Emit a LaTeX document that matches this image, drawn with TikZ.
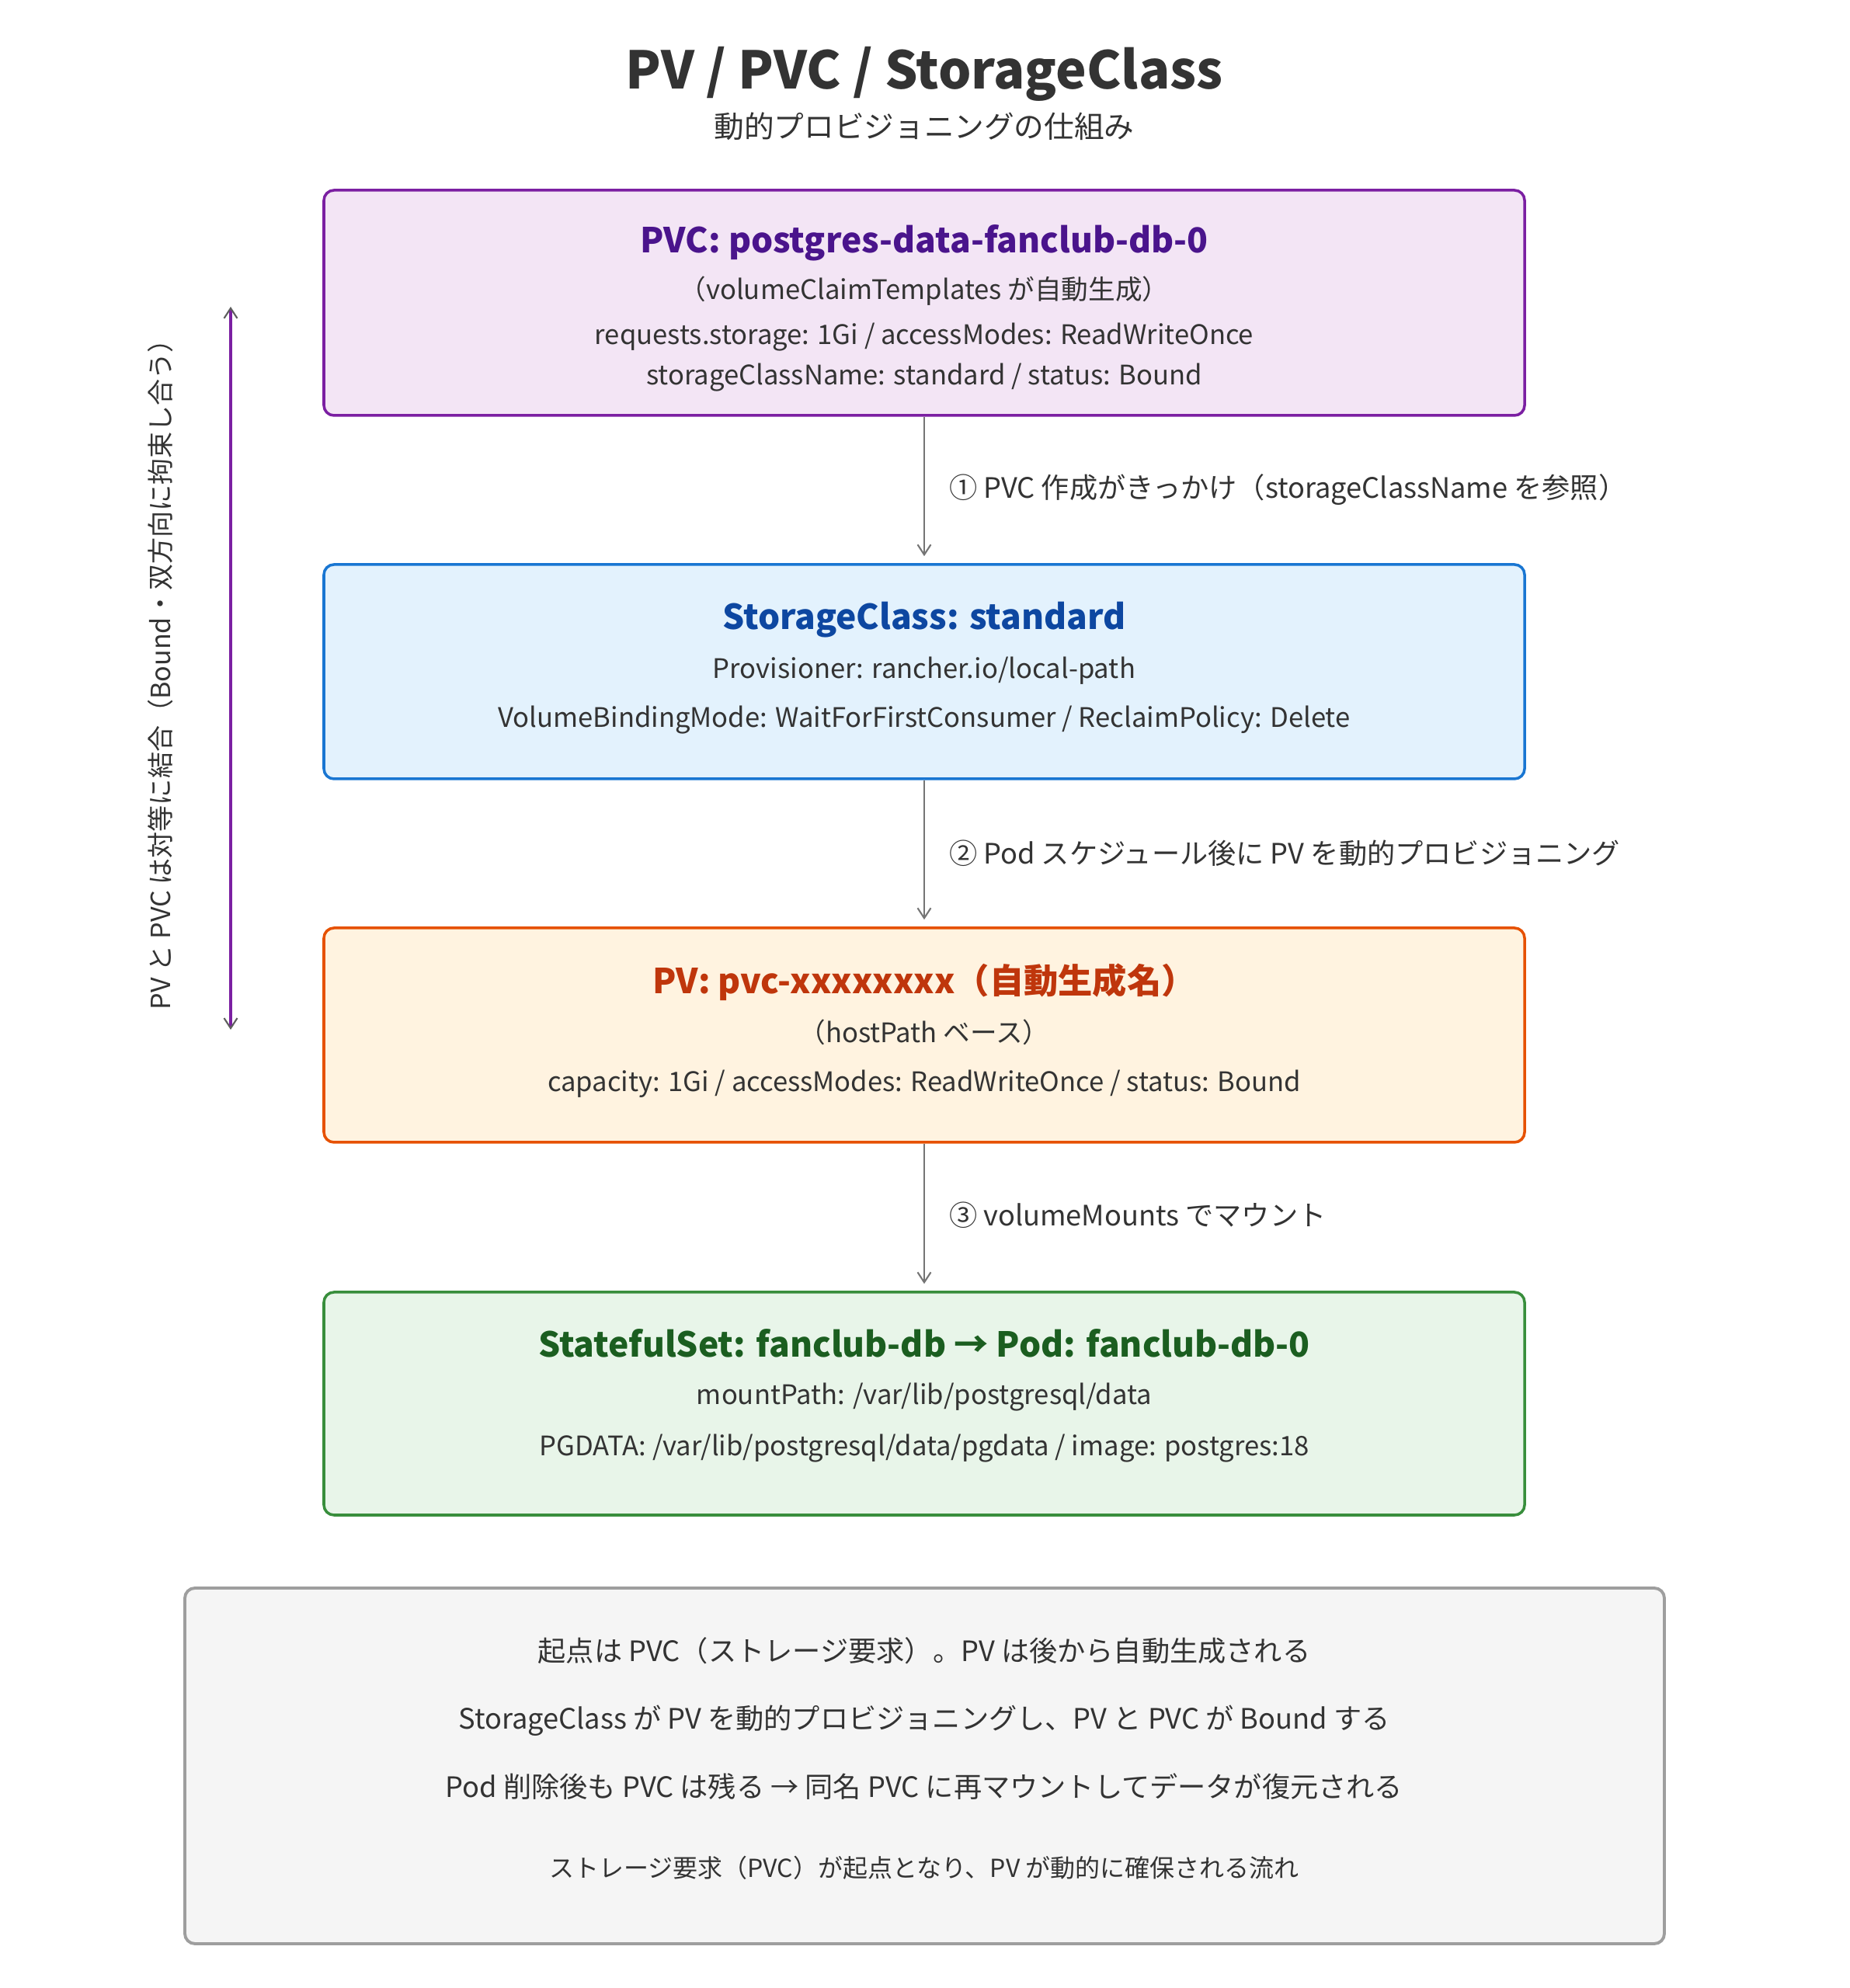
\documentclass[tikz,border=0pt]{standalone}
\usepackage{fontspec}
\setmainfont{Noto Sans CJK JP}
\usetikzlibrary{arrows.meta}
\definecolor{txt}{HTML}{333333}
\definecolor{pvcfill}{HTML}{F3E5F5}
\definecolor{pvcline}{HTML}{7B1FA2}
\definecolor{pvctext}{HTML}{4A148C}
\definecolor{scfill}{HTML}{E3F2FD}
\definecolor{scline}{HTML}{1976D2}
\definecolor{sctext}{HTML}{0D47A1}
\definecolor{pvfill}{HTML}{FFF3E0}
\definecolor{pvline}{HTML}{E65100}
\definecolor{pvtext}{HTML}{BF360C}
\definecolor{podfill}{HTML}{E8F5E9}
\definecolor{podline}{HTML}{388E3C}
\definecolor{podtext}{HTML}{1B5E20}
\definecolor{notefill}{HTML}{F5F5F5}
\definecolor{noteline}{HTML}{9E9E9E}
\definecolor{arrowgray}{HTML}{757575}
\begin{document}
\begin{tikzpicture}[
		box/.style = {draw, line width=1pt, rounded corners=0.13cm, minimum width=15.46cm, inner sep=0pt},
		boxtitle/.style = {font=\fontsize{12.6}{15}\selectfont\bfseries, inner sep=0pt},
		body/.style = {text=txt, font=\fontsize{9.85}{12}\selectfont, inner sep=0pt},
		notetext/.style = {text=txt, font=\fontsize{10.3}{12}\selectfont, inner sep=0pt},
		lbl/.style = {text=txt, font=\fontsize{10.3}{12}\selectfont, inner sep=0pt, anchor=west},
		flow/.style = {draw=arrowgray, line width=0.6pt, -{Straight Barb[length=0.13cm, width=0.17cm]}, shorten >=0.09cm}
	]
		\useasboundingbox (0,0) rectangle (23.81,25.60);
		\node[text=txt, font=\fontsize{19}{22}\selectfont\bfseries, inner sep=0pt] (title) at (11.90,24.65) {PV / PVC / StorageClass};
		\node[body, font=\fontsize{11}{13}\selectfont] (subtitle) at (11.90,23.97) {動的プロビジョニングの仕組み};

		% boxes
		\node[box, draw=pvcline, fill=pvcfill, minimum height=2.90cm] (pvc) at (11.90,21.70) {};
		\node[box, draw=scline, fill=scfill, minimum height=2.76cm] (sc) at (11.90,16.95) {};
		\node[box, draw=pvline, fill=pvfill, minimum height=2.76cm] (pv) at (11.90,12.27) {};
		\node[box, draw=podline, fill=podfill, minimum height=2.87cm] (pod) at (11.90,7.525) {};

		\node[boxtitle, text=pvctext] (pvctitle) at (11.90,22.47) {PVC: postgres-data-fanclub-db-0};
		\node[body] (pvcsub) at (11.90,21.85) {（volumeClaimTemplates が自動生成）};
		\node[body] (pvcreq) at (11.90,21.26) {requests.storage: 1Gi / accessModes: ReadWriteOnce};
		\node[body] (pvcstat) at (11.90,20.74) {storageClassName: standard / status: Bound};

		\node[boxtitle, text=sctext] (sctitle) at (11.90,17.62) {StorageClass: standard};
		\node[body] (scprov) at (11.90,16.96) {Provisioner: rancher.io/local-path};
		\node[body] (scmode) at (11.90,16.33) {VolumeBindingMode: WaitForFirstConsumer / ReclaimPolicy: Delete};

		\node[boxtitle, text=pvtext] (pvtitle) at (11.90,12.95) {PV: pvc-xxxxxxxx（自動生成名）};
		\node[body] (pvsub) at (11.90,12.31) {（hostPath ベース）};
		\node[body] (pvcap) at (11.90,11.64) {capacity: 1Gi / accessModes: ReadWriteOnce / status: Bound};

		\node[boxtitle, text=podtext] (podtitle) at (11.90,8.30) {StatefulSet: fanclub-db → Pod: fanclub-db-0};
		\node[body] (podmount) at (11.90,7.61) {mountPath: /var/lib/postgresql/data};
		\node[body] (podenv) at (11.90,6.95) {PGDATA: /var/lib/postgresql/data/pgdata / image: postgres:18};

		% steps
		\draw[flow] (pvc.south) -- (sc.north) node[midway, lbl, xshift=0.31cm] (step1) {① PVC 作成がきっかけ（storageClassName を参照）};
		\draw[flow] (sc.south) -- (pv.north) node[midway, lbl, xshift=0.31cm] (step2) {② Pod スケジュール後に PV を動的プロビジョニング};
		\draw[flow] (pv.south) -- (pod.north) node[midway, lbl, xshift=0.31cm, yshift=0.03cm] (step3) {③ volumeMounts でマウント};

		% binding
		\coordinate (bindtop) at (2.97,21.65);
		\coordinate (bindbot) at (2.97,12.34);
		\draw[draw=pvcline, line width=1.1pt, {Straight Barb[color=arrowgray!80!black, line width=0.6pt, length=0.13cm, width=0.17cm]}-{Straight Barb[color=arrowgray!80!black, line width=0.6pt, length=0.13cm, width=0.17cm]}] (bindtop) -- (bindbot);
		\node[body, font=\fontsize{9.7}{12}\selectfont, rotate=90] (bindlbl) at (2.07,17.00) {PV と PVC は対等に結合（Bound・双方向に拘束し合う）};

		% note
		\node[box, draw=noteline, fill=notefill, line width=1.1pt, minimum width=19.05cm, minimum height=4.58cm] (note) at (11.905,2.86) {};
		\node[notetext] (note1) at (11.90,4.34) {起点は PVC（ストレージ要求）。PV は後から自動生成される};
		\node[notetext] (note2) at (11.90,3.44) {StorageClass が PV を動的プロビジョニングし、PV と PVC が Bound する};
		\node[notetext] (note3) at (11.90,2.59) {Pod 削除後も PVC は残る → 同名 PVC に再マウントしてデータが復元される};
		\node[notetext, font=\fontsize{9.1}{11}\selectfont] (note4) at (11.90,1.55) {ストレージ要求（PVC）が起点となり、PV が動的に確保される流れ};
		\end{tikzpicture}
\end{document}
